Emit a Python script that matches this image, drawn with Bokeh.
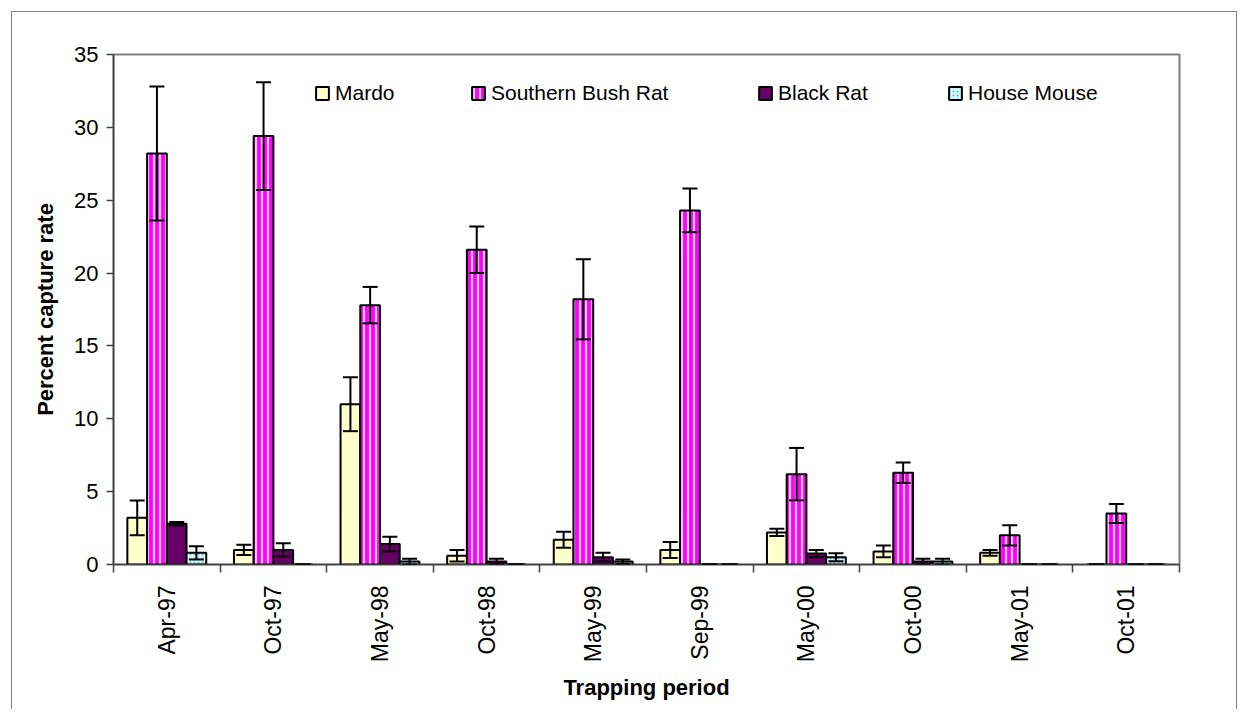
import numpy as np
from bokeh.plotting import figure
from bokeh.models import (ColumnDataSource, Range1d, FixedTicker, Whisker, TeeHead,
                          Legend, LegendItem)
from bokeh.embed import file_html
from bokeh.resources import INLINE

periods = ["Apr-97", "Oct-97", "May-98", "Oct-98", "May-99",
           "Sep-99", "May-00", "Oct-00", "May-01", "Oct-01"]
mardo = [3.2, 1.0, 11.0, 0.6, 1.7, 1.0, 2.2, 0.9, 0.8, 0.0]
mardo_err = [1.2, 0.35, 1.85, 0.4, 0.55, 0.55, 0.25, 0.4, 0.2, 0.0]
bush_rat = [28.2, 29.4, 17.8, 21.6, 18.2, 24.3, 6.2, 6.3, 2.0, 3.5]
bush_rat_err = [4.6, 3.7, 1.25, 1.6, 2.75, 1.5, 1.8, 0.7, 0.7, 0.65]
black_rat = [2.8, 1.0, 1.4, 0.2, 0.5, 0.0, 0.75, 0.2, 0.0, 0.0]
black_rat_err = [0.12, 0.45, 0.5, 0.2, 0.3, 0.0, 0.25, 0.2, 0.0, 0.0]
house_mouse = [0.8, 0.0, 0.2, 0.0, 0.2, 0.0, 0.5, 0.2, 0.0, 0.0]
house_mouse_err = [0.45, 0.0, 0.2, 0.0, 0.15, 0.0, 0.28, 0.2, 0.0, 0.0]

series_names = ["Mardo", "Southern Bush Rat", "Black Rat", "House Mouse"]
series_vals = [mardo, bush_rat, black_rat, house_mouse]
series_errs = [mardo_err, bush_rat_err, black_rat_err, house_mouse_err]
fills = ["#FFFFCC", "#FF00FF", "#660066", "#CCFFFF"]
hatches = [None, "vertical_line", None, "dot"]
hatch_colors = ["white", "#FFCCFF", "white", "#7FA7C7"]
legend_x = [201, 357, 644, 834]

FONT = "Liberation Sans"

p = figure(width=1226, height=698, x_range=Range1d(0, 10), y_range=Range1d(0, 35),
           output_backend="svg", toolbar_location=None,
           min_border_left=101, min_border_right=59, min_border_top=42,
           min_border_bottom=146)
p.styles = {"margin-left": "11px", "margin-top": "11px",
            "border-top": "1px solid #808080", "border-left": "1px solid #808080",
            "border-right": "1px solid #808080"}
p.xgrid.visible = False
p.ygrid.visible = False
p.outline_line_color = "#808080"
p.outline_line_width = 2
p.background_fill_color = "white"
p.border_fill_color = "white"

w = 0.185
n = len(periods)
for k in range(4):
    off = (k - 1.5) * w
    xs = np.arange(n) + 0.5 + off
    vals = np.array(series_vals[k], dtype=float)
    errs = np.array(series_errs[k], dtype=float)
    src = ColumnDataSource(dict(x=xs, top=vals, upper=vals + errs,
                                lower=np.maximum(vals - errs, 0)))
    kw = {}
    if hatches[k]:
        kw = dict(hatch_pattern=hatches[k], hatch_color=hatch_colors[k],
                  hatch_scale=6 if k == 1 else 4, hatch_weight=2.2 if k == 1 else 1.0)
    r = p.vbar(x="x", top="top", bottom=0, width=w, source=src,
               fill_color=fills[k], line_color="black", line_width=2, **kw)
    wk = Whisker(base="x", upper="upper", lower="lower", source=src,
                 line_color="black", line_width=2, level="annotation",
                 upper_head=TeeHead(size=15, line_color="black", line_width=2),
                 lower_head=TeeHead(size=15, line_color="black", line_width=2))
    p.add_layout(wk)
    lg = Legend(items=[LegendItem(label=series_names[k], renderers=[r])],
                orientation="horizontal", location=(legend_x[k], 459),
                padding=0, margin=0, border_line_color=None,
                background_fill_alpha=0, label_text_font=FONT,
                label_text_color="black",
                label_text_font_size="21px", glyph_width=16, glyph_height=16,
                label_standoff=5)
    p.add_layout(lg)

# x axis
xa = p.xaxis[0]
xa.ticker = FixedTicker(ticks=[i + 0.5 for i in range(n)], minor_ticks=list(range(n + 1)))
xa.major_label_overrides = {float(i + 0.5): periods[i] for i in range(n)}
xa.major_label_orientation = np.pi / 2
xa.major_tick_out = 0
xa.major_tick_in = 0
xa.minor_tick_out = 8
xa.minor_tick_in = 0
xa.minor_tick_line_color = "#404040"
xa.minor_tick_line_width = 1.5
xa.axis_line_color = "#404040"
xa.axis_line_width = 1.5
xa.major_label_standoff = 13
xa.major_label_text_font = FONT
xa.major_label_text_font_size = "23px"
xa.major_label_text_color = "black"
xa.axis_label = "Trapping period"
xa.axis_label_text_font = FONT
xa.axis_label_text_font_style = "bold"
xa.axis_label_text_font_size = "22px"
xa.axis_label_standoff = 10
xa.axis_label_text_color = "black"

ya = p.yaxis[0]
ya.ticker = FixedTicker(ticks=[0, 5, 10, 15, 20, 25, 30, 35], minor_ticks=[])
ya.major_tick_out = 7
ya.major_tick_in = 0
ya.major_tick_line_color = "#404040"
ya.major_tick_line_width = 1.5
ya.axis_line_color = "#404040"
ya.axis_line_width = 1.5
ya.major_label_standoff = 8
ya.major_label_text_font = FONT
ya.major_label_text_font_size = "22px"
ya.major_label_text_color = "black"
ya.axis_label = "Percent capture rate"
ya.axis_label_text_font = FONT
ya.axis_label_text_font_style = "bold"
ya.axis_label_text_font_size = "22px"
ya.axis_label_standoff = 13
ya.axis_label_text_color = "black"

open("out.html", "w").write(file_html(p, INLINE))
